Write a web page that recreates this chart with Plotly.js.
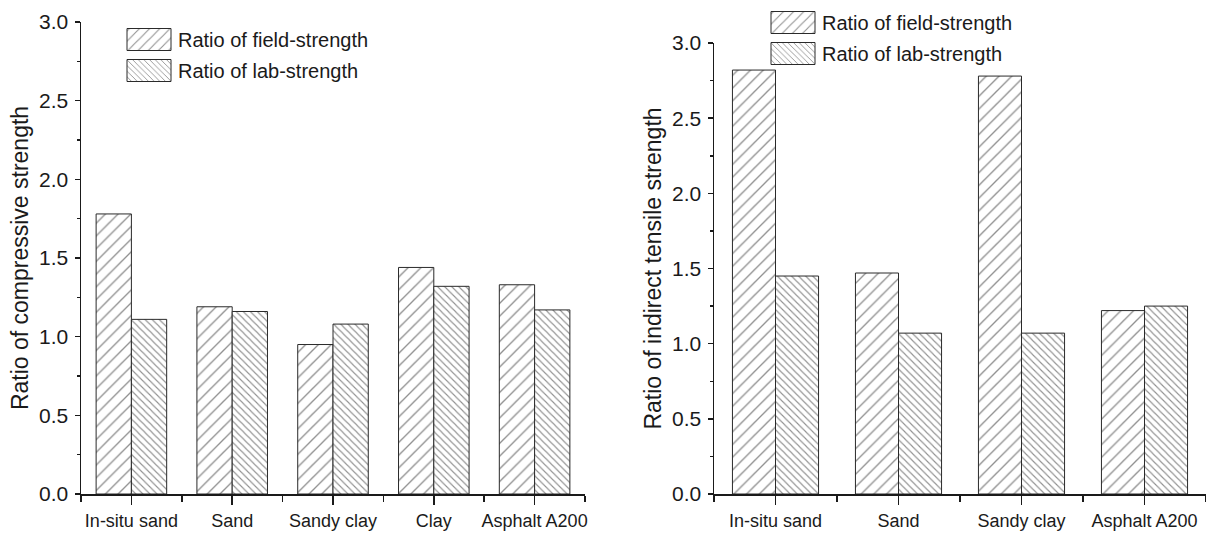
<!DOCTYPE html>
<html>
<head>
<meta charset="utf-8">
<script src="https://cdn.plot.ly/plotly-3.0.1.min.js"></script>
<style>
  html, body { margin: 0; padding: 0; background: #ffffff; }
  #chart { width: 1206px; height: 533px; }
</style>
</head>
<body>
<div id="chart"></div>
<script>
// ---- data ----
const categoriesLeft = ['In-situ sand', 'Sand', 'Sandy clay', 'Clay', 'Asphalt A200'];
const fieldLeft = [1.78, 1.19, 0.95, 1.44, 1.33];
const labLeft   = [1.11, 1.16, 1.08, 1.32, 1.17];

const categoriesRight = ['In-situ sand', 'Sand', 'Sandy clay', 'Asphalt A200'];
const fieldRight = [2.82, 1.47, 2.78, 1.22];
const labRight   = [1.45, 1.07, 1.07, 1.25];

const seriesNames = ['Ratio of field-strength', 'Ratio of lab-strength'];
const yTitleLeft = 'Ratio of compressive strength';
const yTitleRight = 'Ratio of indirect tensile strength';
const yTickVals = [0, 0.5, 1.0, 1.5, 2.0, 2.5, 3.0];

// ---- styling ----
const W = 1206, H = 533;
const font = '"Liberation Sans", Arial, sans-serif';
const ink = '#1a1a1a';

const fieldPattern = { shape: '/', size: 9, solidity: 0.15, fgcolor: '#222', bgcolor: '#ffffff', fillmode: 'overlay' };
const labPattern   = { shape: '\\', size: 5, solidity: 0.22, fgcolor: '#222', bgcolor: '#ffffff', fillmode: 'overlay' };
const barLine = { color: '#2a2a2a', width: 1 };

const idx = arr => arr.map((_, i) => i);

const traces = [
  { type: 'bar', x: idx(categoriesLeft), y: fieldLeft, name: seriesNames[0], xaxis: 'x', yaxis: 'y',
    marker: { color: '#ffffff', pattern: fieldPattern, line: barLine }, legend: 'legend', legendgroup: 'a' },
  { type: 'bar', x: idx(categoriesLeft), y: labLeft, name: seriesNames[1], xaxis: 'x', yaxis: 'y',
    marker: { color: '#ffffff', pattern: labPattern, line: barLine }, legend: 'legend', legendgroup: 'b' },
  { type: 'bar', x: idx(categoriesRight), y: fieldRight, name: seriesNames[0], xaxis: 'x2', yaxis: 'y2',
    marker: { color: '#ffffff', pattern: fieldPattern, line: barLine }, legend: 'legend2', legendgroup: 'c' },
  { type: 'bar', x: idx(categoriesRight), y: labRight, name: seriesNames[1], xaxis: 'x2', yaxis: 'y2',
    marker: { color: '#ffffff', pattern: labPattern, line: barLine }, legend: 'legend2', legendgroup: 'd' }
];

function xAxis(cats, domain, anchor) {
  return {
    domain: domain, anchor: anchor,
    range: [-0.5, cats.length - 0.5],
    tickmode: 'array', tickvals: idx(cats), ticktext: cats,
    ticks: 'outside', ticklen: 9, tickwidth: 1.5, tickcolor: ink,
    minor: { tick0: 0.5, dtick: 1, ticks: 'outside', ticklen: 6, tickwidth: 1.5, tickcolor: ink },
    showline: true, linewidth: 1.5, linecolor: ink,
    showgrid: false, zeroline: false,
    tickfont: { family: font, size: 18, color: ink },
    ticklabeloverflow: 'allow',
    ticklabelstandoff: 1,
    automargin: false,
    fixedrange: true
  };
}
function yAxis(title, domain, anchor, standoff) {
  return {
    domain: domain, anchor: anchor,
    range: [0, 3], tickmode: 'array', tickvals: yTickVals, tickformat: '.1f',
    ticks: 'outside', ticklen: 5, tickwidth: 1.5, tickcolor: ink,
    minor: { dtick: 0.25, ticks: 'outside', ticklen: 3, tickwidth: 1.5, tickcolor: ink },
    showline: true, linewidth: 1.5, linecolor: ink,
    showgrid: false, zeroline: false,
    tickfont: { family: font, size: 21, color: ink },
    ticklabelstandoff: 2,
    title: { text: title, font: { family: font, size: 23, color: ink }, standoff: standoff },
    automargin: false,
    fixedrange: true
  };
}

const yBottom = (H - 494) / H;
const legendCommon = {
  xanchor: 'left', yanchor: 'top',
  bgcolor: 'rgba(0,0,0,0)', borderwidth: 0, itemwidth: 48,
  tracegroupgap: 2, valign: 'middle',
  font: { family: font, size: 20, color: ink }
};
const layout = {
  width: W, height: H,
  margin: { l: 0, r: 0, t: 0, b: 0, pad: 0 },
  paper_bgcolor: '#ffffff', plot_bgcolor: '#ffffff',
  barmode: 'group', bargap: 0.3, bargroupgap: 0,
  font: { family: font, color: ink },
  xaxis:  xAxis(categoriesLeft,  [81 / W, 585 / W], 'y'),
  yaxis:  yAxis(yTitleLeft,  [yBottom, (H - 22) / H], 'x', 4),
  xaxis2: xAxis(categoriesRight, [714 / W, 1], 'y2'),
  yaxis2: yAxis(yTitleRight, [yBottom, (H - 43) / H], 'x2', 4),
  legend:  Object.assign({ x: 120 / W, y: 1 - 20 / H }, legendCommon),
  legend2: Object.assign({ x: 764 / W, y: 1 - 3 / H }, legendCommon),
  showlegend: true
};

Plotly.newPlot('chart', traces, layout, { staticPlot: true, displayModeBar: false }).then(gd => {
  // enlarge the legend swatches to the wide hatched boxes of the original
  gd.querySelectorAll('g.legendpoints path').forEach(p => {
    p.setAttribute('d', 'M22,11H-22V-11H22Z');
    p.style.strokeWidth = '1px';
    p.style.stroke = '#2a2a2a';
  });
});
</script>
</body>
</html>
